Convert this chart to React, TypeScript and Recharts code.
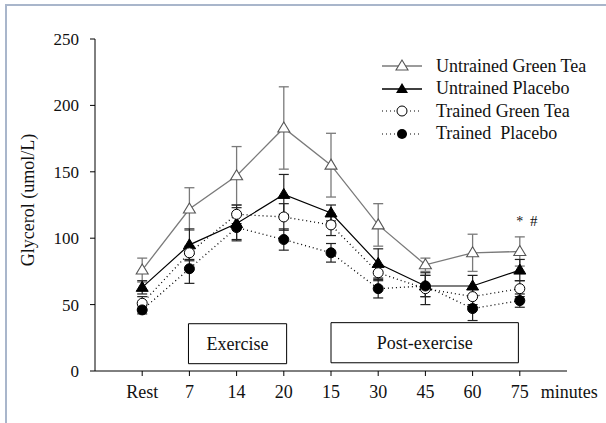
import {
  ErrorBar,
  Label,
  Legend,
  Line,
  LineChart,
  ReferenceArea,
  ReferenceDot,
  XAxis,
  YAxis,
} from 'recharts';

const timeLabels = ['Rest', '7', '14', '20', '15', '30', '45', '60', '75'];

const untrainedGreenTea = [76, 122, 147, 183, 155, 110, 80, 89, 90];
const untrainedGreenTeaErr = [9, 16, 22, 31, 24, 16, 5, 14, 11];
const untrainedPlacebo = [63, 95, 111, 133, 119, 81, 64, 64, 76];
const untrainedPlaceboErr = [5, 12, 12, 15, 6, 11, 8, 8, 8];
const trainedGreenTea = [51, 89, 118, 116, 110, 74, 62, 56, 62];
const trainedGreenTeaErr = [5, 5, 7, 10, 8, 6, 12, 6, 6];
const trainedPlacebo = [46, 77, 108, 99, 89, 62, 64, 47, 53];
const trainedPlaceboErr = [3, 11, 10, 8, 7, 7, 8, 9, 5];

const seriesNames = [
  'Untrained Green Tea',
  'Untrained Placebo',
  'Trained Green Tea',
  'Trained  Placebo',
];

const data = timeLabels.map((label, i) => ({
  x: i,
  label,
  ugt: untrainedGreenTea[i],
  ugtErr: untrainedGreenTeaErr[i],
  up: untrainedPlacebo[i],
  upErr: untrainedPlaceboErr[i],
  tgt: trainedGreenTea[i],
  tgtErr: trainedGreenTeaErr[i],
  tp: trainedPlacebo[i],
  tpErr: trainedPlaceboErr[i],
}));

const FONT = '"Liberation Serif", "Times New Roman", serif';
const GRAY = '#7a7a7a';

function triangle(cx: number, cy: number, filled: boolean, stroke: string) {
  return `M${cx},${cy - 6} L${cx - 6},${cy + 4} L${cx + 6},${cy + 4} Z`;
}

const openTriangle = (props: any) => (
  <path
    key={`ot-${props.index}`}
    d={triangle(props.cx, props.cy, false, GRAY)}
    fill="#fff"
    stroke="#555"
    strokeWidth={1.1}
  />
);

const filledTriangle = (props: any) => (
  <path
    key={`ft-${props.index}`}
    d={triangle(props.cx, props.cy, true, '#000')}
    fill="#000"
    stroke="#000"
    strokeWidth={1}
  />
);

function XTick(props: any) {
  const { x, y, payload } = props;
  const text = timeLabels[payload.value] ?? '';
  const last = payload.value === timeLabels.length - 1;
  return (
    <g>
      <text x={x} y={y} dy="0.71em" textAnchor="middle" fontSize={18} fontFamily={FONT} fill="#111">
        {text}
      </text>
      {last && (
        <text x={x + 21} y={y} dy="0.71em" textAnchor="start" fontSize={18} fontFamily={FONT} fill="#111">
          minutes
        </text>
      )}
    </g>
  );
}

function LegendIcon({ idx }: { idx: number }) {
  const dotted = idx >= 2;
  const stroke = idx === 0 ? GRAY : '#000';
  return (
    <svg width={44} height={22} style={{ display: 'block' }}>
      <line
        x1={2}
        y1={11}
        x2={42}
        y2={11}
        stroke={stroke}
        strokeWidth={dotted ? 1.2 : 1.4}
        strokeDasharray={dotted ? '1 3' : undefined}
      />
      {idx === 0 && <path d={triangle(22, 11, false, GRAY)} fill="#fff" stroke="#555" strokeWidth={1.1} />}
      {idx === 1 && <path d={triangle(22, 11, true, '#000')} fill="#000" />}
      {idx === 2 && <circle cx={22} cy={11} r={5} fill="#fff" stroke="#000" strokeWidth={1} />}
      {idx === 3 && <circle cx={22} cy={11} r={5} fill="#000" />}
    </svg>
  );
}

function LegendBox() {
  return (
    <div style={{ fontFamily: FONT, fontSize: 18, color: '#111' }}>
      {seriesNames.map((name, i) => (
        <div key={name} style={{ display: 'flex', alignItems: 'center', height: 22.5, whiteSpace: 'pre' }}>
          <LegendIcon idx={i} />
          <span style={{ marginLeft: 12 }}>{name}</span>
        </div>
      ))}
    </div>
  );
}

export default function App() {
  return (
    <div
      style={{
        position: 'absolute',
        left: 0,
        top: 0,
        width: 606,
        height: 423,
        background: '#fff',
        overflow: 'hidden',
      }}
    >
      <div
        style={{
          position: 'absolute',
          left: 5,
          top: 4,
          right: -4,
          bottom: -4,
          borderLeft: '2px solid #a9b6cb',
          borderTop: '2px solid #a9b6cb',
        }}
      />
      <LineChart width={606} height={423} data={data} margin={{ top: 39, right: 39, bottom: 22, left: 35 }}>
        <XAxis
          type="number"
          dataKey="x"
          domain={[-1, 9]}
          ticks={[0, 1, 2, 3, 4, 5, 6, 7, 8]}
          allowDataOverflow
          height={30}
          stroke="#000"
          tickSize={5}
          tickMargin={9}
          tick={<XTick />}
        />
        <YAxis
          domain={[0, 250]}
          ticks={[0, 50, 100, 150, 200, 250]}
          width={60}
          stroke="#000"
          tickSize={5}
          tickMargin={11}
          tick={{ fontSize: 17, fontFamily: FONT, fill: '#111' }}
        >
          <Label
            content={() => (
              <text
                x={28}
                y={200}
                transform="rotate(-90 28 200)"
                textAnchor="middle"
                dominantBaseline="central"
                fontSize={18}
                fontFamily={FONT}
                fill="#111"
              >
                Glycerol (umol/L)
              </text>
            )}
          />
        </YAxis>
        <ReferenceArea
          x1={0.98}
          x2={3.06}
          y1={5.5}
          y2={35.6}
          fill="#fff"
          fillOpacity={1}
          stroke="#000"
          strokeWidth={1}
          label={{ value: 'Exercise', position: 'center', fontSize: 18, fontFamily: FONT, fill: '#111' }}
        />
        <ReferenceArea
          x1={4}
          x2={7.97}
          y1={6.2}
          y2={36.4}
          fill="#fff"
          fillOpacity={1}
          stroke="#000"
          strokeWidth={1}
          label={{ value: 'Post-exercise', position: 'center', fontSize: 18, fontFamily: FONT, fill: '#111' }}
        />
        <Line
          dataKey="ugt"
          stroke={GRAY}
          strokeWidth={1.3}
          dot={openTriangle}
          activeDot={false}
          isAnimationActive={false}
        >
          <ErrorBar dataKey="ugtErr" direction="y" width={5} stroke={GRAY} strokeWidth={1.3} />
        </Line>
        <Line
          dataKey="up"
          stroke="#000"
          strokeWidth={1.2}
          dot={filledTriangle}
          activeDot={false}
          isAnimationActive={false}
        >
          <ErrorBar dataKey="upErr" direction="y" width={5} stroke="#222" strokeWidth={1.2} />
        </Line>
        <Line
          dataKey="tgt"
          stroke="#000"
          strokeWidth={1.3}
          strokeDasharray="1 3"
          dot={{ r: 5, fill: '#fff', stroke: '#000', strokeWidth: 1, strokeDasharray: '' }}
          activeDot={false}
          isAnimationActive={false}
        >
          <ErrorBar dataKey="tgtErr" direction="y" width={5} stroke="#222" strokeWidth={1.2} />
        </Line>
        <Line
          dataKey="tp"
          stroke="#000"
          strokeWidth={1.3}
          strokeDasharray="1 3"
          dot={{ r: 5, fill: '#000', stroke: '#000', strokeWidth: 1, strokeDasharray: '' }}
          activeDot={false}
          isAnimationActive={false}
        >
          <ErrorBar dataKey="tpErr" direction="y" width={5} stroke="#222" strokeWidth={1.2} />
        </Line>
        <ReferenceDot
          x={8}
          y={112.6}
          r={0}
          stroke="none"
          fill="none"
          label={(p: any) => {
            const vb = p.viewBox || {};
            const cx = (vb.x ?? 0) + (vb.width ?? 0) / 2;
            const cy = (vb.y ?? 0) + (vb.height ?? 0) / 2;
            return (
              <g fontFamily={FONT} fill="#111">
                <text x={cx} y={cy} textAnchor="middle" dominantBaseline="central" fontSize={14}>
                  *
                </text>
                <text x={cx + 14} y={cy} textAnchor="middle" dominantBaseline="central" fontSize={15}>
                  #
                </text>
              </g>
            );
          }}
        />
        <Legend
          layout="vertical"
          align="center"
          verticalAlign="middle"
          wrapperStyle={{ left: 380, top: 55, width: 220 }}
          content={() => <LegendBox />}
        />
      </LineChart>
    </div>
  );
}
